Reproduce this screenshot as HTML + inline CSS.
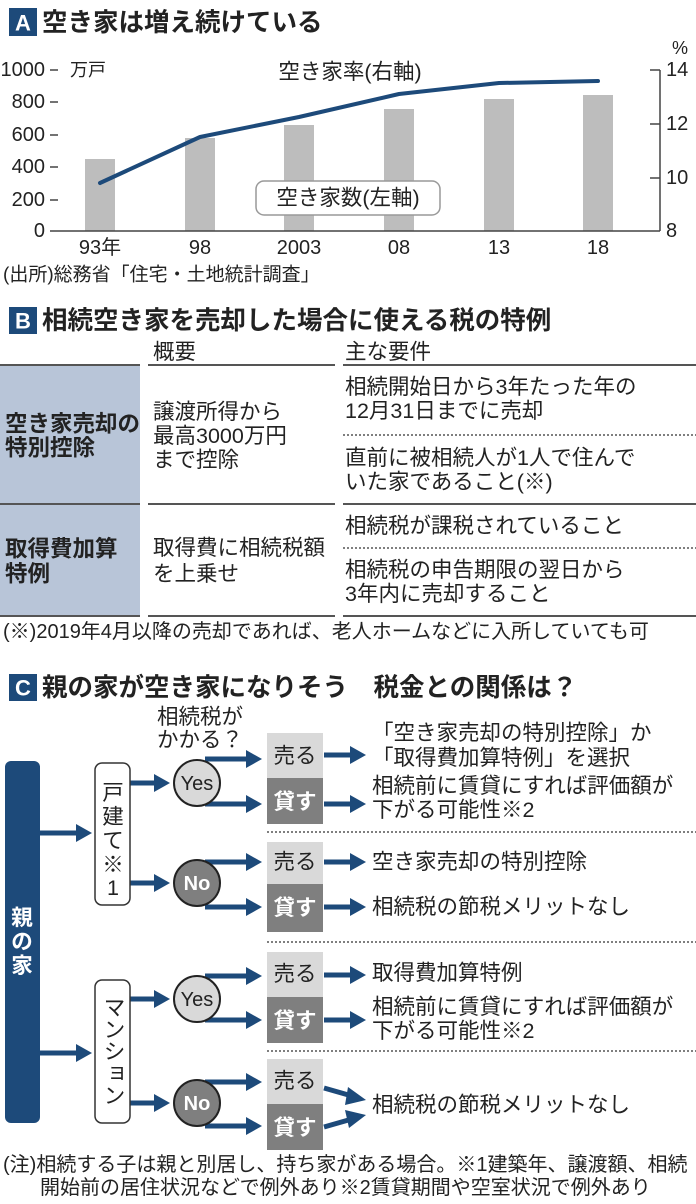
<!DOCTYPE html>
<html><head><meta charset="utf-8"><style>
html,body{margin:0;padding:0;background:#fff;}
svg{display:block;font-family:"Liberation Sans","Noto Sans CJK JP",sans-serif;}
.t{font-size:21.5px;fill:#222;dominant-baseline:central;}
.b{font-weight:bold;}
</style></head><body>
<svg width="696" height="1204" viewBox="0 0 696 1204" xmlns="http://www.w3.org/2000/svg">
<defs>
<g id="ah"><polygon points="0,-9 16,0 0,9" fill="#1d4a7a"/></g>
</defs>
<!-- Section A -->
<rect x="9" y="8" width="28" height="28" fill="#1d4a7a"/>
<text x="23" y="23" class="t b" style="fill:#fff;font-size:22px" text-anchor="middle">A</text>
<text x="42" y="23" class="t b" style="font-size:25.5px">空き家は増え続けている</text>
<g fill="#bdbdbd">
<rect x="85" y="159" width="30" height="72"/>
<rect x="185" y="138" width="30" height="93"/>
<rect x="284" y="125" width="30" height="106"/>
<rect x="384" y="109" width="30" height="122"/>
<rect x="484" y="99" width="30" height="132"/>
<rect x="583" y="95" width="30" height="136"/>
</g>
<g stroke="#444" stroke-width="1.5">
<line x1="50" y1="231" x2="660" y2="231"/>
<line x1="660" y1="70" x2="660" y2="231"/>
<line x1="50" y1="70" x2="58" y2="70"/><line x1="50" y1="102" x2="58" y2="102"/><line x1="50" y1="135" x2="58" y2="135"/><line x1="50" y1="167" x2="58" y2="167"/><line x1="50" y1="200" x2="58" y2="200"/>
<line x1="650" y1="70" x2="660" y2="70"/><line x1="650" y1="124" x2="660" y2="124"/><line x1="650" y1="178" x2="660" y2="178"/>
</g>
<text x="45" y="70" class="t" text-anchor="end" style="font-size:20px">1000</text>
<text x="45" y="102" class="t" text-anchor="end" style="font-size:20px">800</text>
<text x="45" y="135" class="t" text-anchor="end" style="font-size:20px">600</text>
<text x="45" y="167" class="t" text-anchor="end" style="font-size:20px">400</text>
<text x="45" y="200" class="t" text-anchor="end" style="font-size:20px">200</text>
<text x="45" y="231" class="t" text-anchor="end" style="font-size:20px">0</text>
<text x="666" y="70" class="t" style="font-size:20px">14</text>
<text x="666" y="124" class="t" style="font-size:20px">12</text>
<text x="666" y="178" class="t" style="font-size:20px">10</text>
<text x="666" y="231" class="t" style="font-size:20px">8</text>
<text x="672" y="48" class="t" style="font-size:18px">%</text>
<text x="70" y="70" class="t" style="font-size:18px">万戸</text>
<text x="350" y="72" class="t" text-anchor="middle">空き家率(右軸)</text>
<polyline points="100,183 200,137 299,117 399,94 499,83 598,81" fill="none" stroke="#1d4a7a" stroke-width="4" stroke-linejoin="round" stroke-linecap="round"/>
<rect x="256" y="181" width="184" height="34" rx="8" fill="#fff" stroke="#999" stroke-width="1.5"/>
<text x="348" y="198" class="t" text-anchor="middle">空き家数(左軸)</text>
<text x="100" y="248" class="t" text-anchor="middle" style="font-size:20px">93年</text>
<text x="200" y="248" class="t" text-anchor="middle" style="font-size:20px">98</text>
<text x="299" y="248" class="t" text-anchor="middle" style="font-size:20px">2003</text>
<text x="399" y="248" class="t" text-anchor="middle" style="font-size:20px">08</text>
<text x="499" y="248" class="t" text-anchor="middle" style="font-size:20px">13</text>
<text x="598" y="248" class="t" text-anchor="middle" style="font-size:20px">18</text>
<text x="3" y="275" class="t" style="font-size:19px">(出所)総務省「住宅・土地統計調査」</text>

<!-- Section B -->
<rect x="9" y="307" width="28" height="27" fill="#1d4a7a"/>
<text x="23" y="321" class="t b" style="fill:#fff;font-size:22px" text-anchor="middle">B</text>
<text x="42" y="321" class="t b" style="font-size:25.5px">相続空き家を売却した場合に使える税の特例</text>
<text x="153" y="352" class="t">概要</text>
<text x="345" y="352" class="t">主な要件</text>
<rect x="0" y="365" width="140" height="139" fill="#b8c5d8"/>
<rect x="0" y="505" width="140" height="111" fill="#b8c5d8"/>
<g stroke="#555" stroke-width="2">
<line x1="0" y1="365" x2="140" y2="365"/><line x1="148" y1="365" x2="335" y2="365"/><line x1="343" y1="365" x2="696" y2="365"/>
<line x1="0" y1="504" x2="140" y2="504"/><line x1="148" y1="504" x2="335" y2="504"/><line x1="343" y1="504" x2="696" y2="504"/>
<line x1="0" y1="616" x2="140" y2="616"/><line x1="148" y1="616" x2="335" y2="616"/><line x1="343" y1="616" x2="696" y2="616"/>
</g>
<g stroke="#555" stroke-width="1.5" stroke-dasharray="2,2">
<line x1="343" y1="435" x2="696" y2="435"/>
<line x1="343" y1="548" x2="696" y2="548"/>
</g>
<text x="5" y="424" class="t b" style="font-size:22.5px">空き家売却の</text>
<text x="5" y="448" class="t b" style="font-size:22.5px">特別控除</text>
<text x="5" y="549" class="t b" style="font-size:22.5px">取得費加算</text>
<text x="5" y="574" class="t b" style="font-size:22.5px">特例</text>
<text x="153" y="412" class="t">譲渡所得から</text>
<text x="153" y="436" class="t">最高3000万円</text>
<text x="153" y="460" class="t">まで控除</text>
<text x="153" y="548" class="t">取得費に相続税額</text>
<text x="153" y="574" class="t">を上乗せ</text>
<text x="345" y="387" class="t">相続開始日から3年たった年の</text>
<text x="345" y="411" class="t">12月31日までに売却</text>
<text x="345" y="458" class="t">直前に被相続人が1人で住んで</text>
<text x="345" y="482" class="t">いた家であること(※)</text>
<text x="345" y="526" class="t">相続税が課税されていること</text>
<text x="345" y="570" class="t">相続税の申告期限の翌日から</text>
<text x="345" y="594" class="t">3年内に売却すること</text>
<text x="3" y="632" class="t" style="font-size:20px">(※)2019年4月以降の売却であれば、老人ホームなどに入所していても可</text>

<!-- Section C -->
<rect x="9" y="674" width="28" height="27" fill="#1d4a7a"/>
<text x="23" y="688" class="t b" style="fill:#fff;font-size:22px" text-anchor="middle">C</text>
<text x="42" y="688" class="t b" style="font-size:25.5px">親の家が空き家になりそう　税金との関係は？</text>
<text x="200" y="717" class="t" text-anchor="middle">相続税が</text>
<text x="200" y="740" class="t" text-anchor="middle">かかる？</text>

<rect x="5" y="761" width="35" height="362" rx="6" fill="#1d4a7a"/>
<text x="22" y="918" class="t b" style="fill:#fff" text-anchor="middle">親</text>
<text x="22" y="942" class="t b" style="fill:#fff" text-anchor="middle">の</text>
<text x="22" y="966" class="t b" style="fill:#fff" text-anchor="middle">家</text>

<g stroke="#1d4a7a" stroke-width="5" fill="none">
<line x1="40" y1="833" x2="78" y2="833"/>
<line x1="40" y1="1053" x2="78" y2="1053"/>
<line x1="130" y1="783" x2="156" y2="783"/>
<line x1="130" y1="883" x2="156" y2="883"/>
<line x1="130" y1="999" x2="156" y2="999"/>
<line x1="130" y1="1103" x2="156" y2="1103"/>
<line x1="205" y1="759" x2="248" y2="759"/>
<line x1="205" y1="804" x2="248" y2="804"/>
<line x1="205" y1="862" x2="248" y2="862"/>
<line x1="205" y1="907" x2="248" y2="907"/>
<line x1="205" y1="976" x2="248" y2="976"/>
<line x1="205" y1="1020" x2="248" y2="1020"/>
<line x1="205" y1="1082" x2="248" y2="1082"/>
<line x1="205" y1="1126" x2="248" y2="1126"/>
<line x1="324" y1="755" x2="352" y2="755"/>
<line x1="324" y1="804" x2="352" y2="804"/>
<line x1="324" y1="862" x2="352" y2="862"/>
<line x1="324" y1="907" x2="352" y2="907"/>
<line x1="324" y1="975" x2="352" y2="975"/>
<line x1="324" y1="1020" x2="352" y2="1020"/>
<line x1="324" y1="1088" x2="352" y2="1096"/>
<line x1="324" y1="1127" x2="352" y2="1119"/>
</g>
<use href="#ah" x="76" y="833"/><use href="#ah" x="76" y="1053"/>
<use href="#ah" x="154" y="783"/><use href="#ah" x="154" y="883"/>
<use href="#ah" x="154" y="999"/><use href="#ah" x="154" y="1103"/>
<use href="#ah" x="246" y="759"/><use href="#ah" x="246" y="804"/>
<use href="#ah" x="246" y="862"/><use href="#ah" x="246" y="907"/>
<use href="#ah" x="246" y="976"/><use href="#ah" x="246" y="1020"/>
<use href="#ah" x="246" y="1082"/><use href="#ah" x="246" y="1126"/>
<use href="#ah" x="350" y="755"/><use href="#ah" x="350" y="804"/>
<use href="#ah" x="350" y="862"/><use href="#ah" x="350" y="907"/>
<use href="#ah" x="350" y="975"/><use href="#ah" x="350" y="1020"/>
<polygon points="348,1087 366,1100 345,1105" fill="#1d4a7a"/>
<polygon points="345,1110 366,1115 349,1128" fill="#1d4a7a"/>

<rect x="95" y="763" width="35" height="142" rx="7" fill="#fff" stroke="#333" stroke-width="1.5"/>
<text x="113" y="793" class="t" text-anchor="middle">戸</text>
<text x="113" y="817" class="t" text-anchor="middle">建</text>
<text x="113" y="841" class="t" text-anchor="middle">て</text>
<text x="113" y="865" class="t" text-anchor="middle">※</text>
<text x="113" y="888" class="t" text-anchor="middle">1</text>
<rect x="95" y="980" width="35" height="143" rx="7" fill="#fff" stroke="#333" stroke-width="1.5"/>
<text x="113" y="996" class="t" style="writing-mode:vertical-rl;dominant-baseline:auto;font-size:22px">マンション</text>

<circle cx="197" cy="783" r="23" fill="#d9d9d9" stroke="#222" stroke-width="2"/>
<text x="197" y="784" class="t" text-anchor="middle" style="font-size:20px">Yes</text>
<circle cx="197" cy="883" r="23" fill="#7f7f7f" stroke="#222" stroke-width="2"/>
<text x="197" y="884" class="t b" text-anchor="middle" style="fill:#fff;font-size:20px">No</text>
<circle cx="197" cy="999" r="23" fill="#d9d9d9" stroke="#222" stroke-width="2"/>
<text x="197" y="1000" class="t" text-anchor="middle" style="font-size:20px">Yes</text>
<circle cx="197" cy="1103" r="23" fill="#7f7f7f" stroke="#222" stroke-width="2"/>
<text x="197" y="1104" class="t b" text-anchor="middle" style="fill:#fff;font-size:20px">No</text>

<rect x="267" y="733" width="56" height="45" fill="#d9d9d9"/><rect x="267" y="778" width="56" height="46" fill="#7f7f7f"/>
<rect x="267" y="842" width="56" height="42" fill="#d9d9d9"/><rect x="267" y="884" width="56" height="48" fill="#7f7f7f"/>
<rect x="267" y="952" width="56" height="45" fill="#d9d9d9"/><rect x="267" y="997" width="56" height="46" fill="#7f7f7f"/>
<rect x="267" y="1059" width="56" height="45" fill="#d9d9d9"/><rect x="267" y="1104" width="56" height="46" fill="#7f7f7f"/>
<text x="295" y="756" class="t" text-anchor="middle">売る</text>
<text x="295" y="802" class="t b" text-anchor="middle" style="fill:#fff">貸す</text>
<text x="295" y="862" class="t" text-anchor="middle">売る</text>
<text x="295" y="908" class="t b" text-anchor="middle" style="fill:#fff">貸す</text>
<text x="295" y="974" class="t" text-anchor="middle">売る</text>
<text x="295" y="1021" class="t b" text-anchor="middle" style="fill:#fff">貸す</text>
<text x="295" y="1081" class="t" text-anchor="middle">売る</text>
<text x="295" y="1128" class="t b" text-anchor="middle" style="fill:#fff">貸す</text>

<g stroke="#555" stroke-width="1.5" stroke-dasharray="2,2">
<line x1="267" y1="832" x2="696" y2="832"/>
<line x1="267" y1="942" x2="696" y2="942"/>
<line x1="267" y1="1051" x2="696" y2="1051"/>
</g>
<text x="372" y="733" class="t">「空き家売却の特別控除」か</text>
<text x="372" y="758" class="t">「取得費加算特例」を選択</text>
<text x="372" y="786" class="t">相続前に賃貸にすれば評価額が</text>
<text x="372" y="810" class="t">下がる可能性※2</text>
<text x="372" y="862" class="t">空き家売却の特別控除</text>
<text x="372" y="907" class="t">相続税の節税メリットなし</text>
<text x="372" y="973" class="t">取得費加算特例</text>
<text x="372" y="1007" class="t">相続前に賃貸にすれば評価額が</text>
<text x="372" y="1031" class="t">下がる可能性※2</text>
<text x="372" y="1105" class="t">相続税の節税メリットなし</text>
<text x="3" y="1165" class="t" style="font-size:20px">(注)相続する子は親と別居し、持ち家がある場合。※1建築年、譲渡額、相続</text>
<text x="40" y="1188" class="t" style="font-size:20px">開始前の居住状況などで例外あり※2賃貸期間や空室状況で例外あり</text>
</svg>
</body></html>
